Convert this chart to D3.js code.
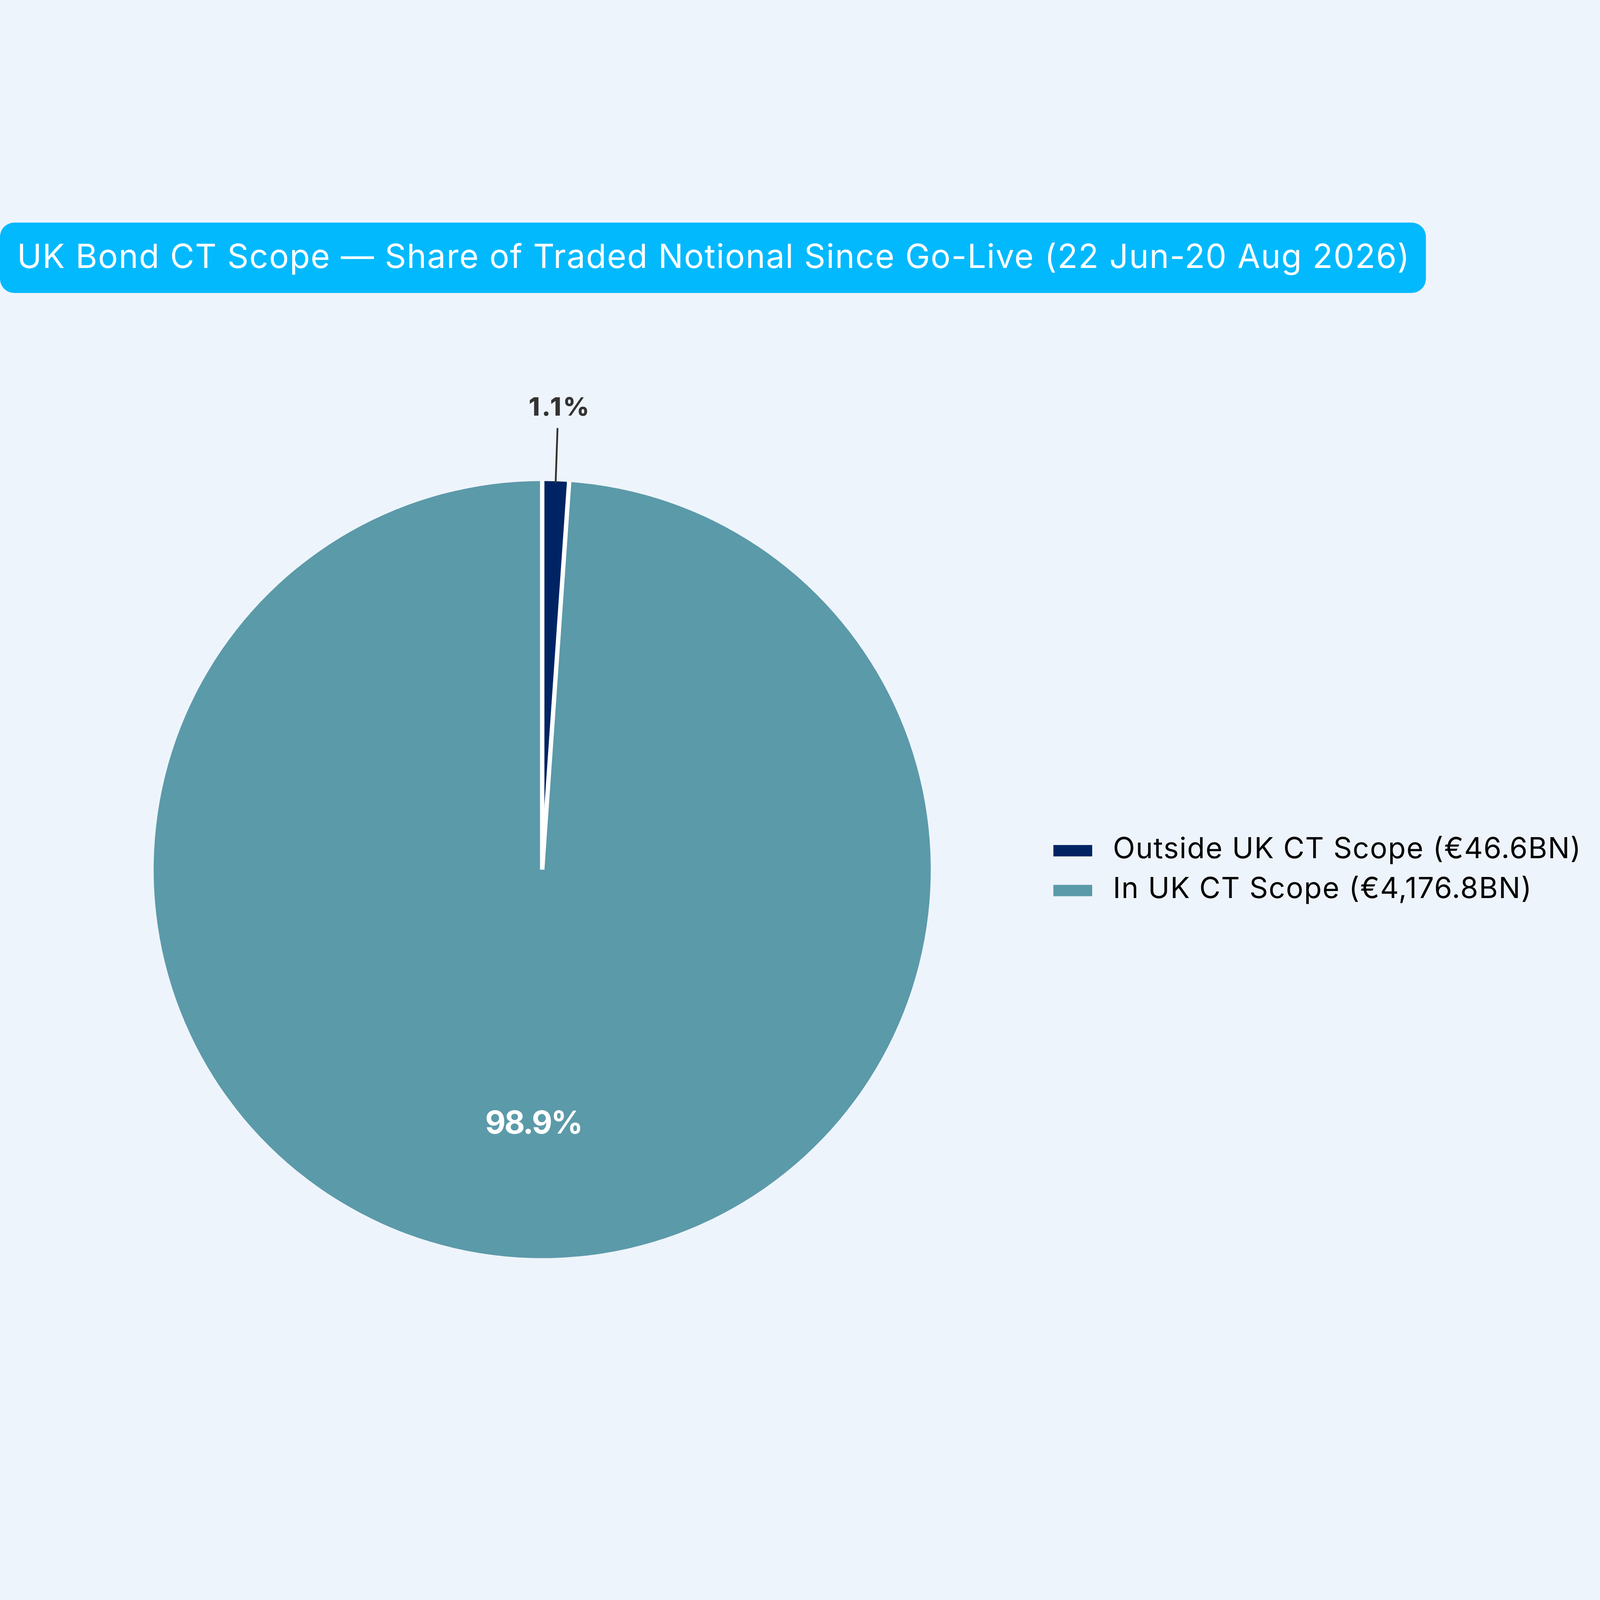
<!DOCTYPE html>
<html>
<head>
<meta charset="utf-8">
<script src="https://cdn.jsdelivr.net/npm/d3@7"></script>
<style>
  html, body { margin: 0; padding: 0; background: #eef4fb; width: 100%; height: 100%; overflow: hidden; }
  svg { display: block; width: 100vw; height: 100vh; }
</style>
</head>
<body>
<script>
const titleText = "UK Bond CT Scope — Share of Traded Notional Since Go-Live (22 Jun-20 Aug 2026)";
const categories = ["Outside UK CT Scope", "In UK CT Scope"];
const values = [46.6, 4176.8];
const legendLabels = ["Outside UK CT Scope (€46.6BN)", "In UK CT Scope (€4,176.8BN)"];
const colors = ["#002463", "#5b9aa9"];

const W = 6185, H = 4440;
const cx = 2096, cy = 2489, R = 1502;
const FONT = "Inter, 'Noto Sans', 'DejaVu Sans', sans-serif";

const svg = d3.select("body").append("svg")
  .attr("viewBox", `0 0 ${W} ${H}`)
  .attr("preserveAspectRatio", "xMidYMid meet");

svg.append("rect").attr("width", W).attr("height", H).attr("fill", "#eef4fb");

// Title box
svg.append("rect")
  .attr("x", 0).attr("y", -12).attr("width", 5512).attr("height", 272)
  .attr("rx", 55).attr("ry", 55)
  .attr("fill", "#03b9fe");
svg.append("text")
  .attr("x", 66).attr("y", 163)
  .attr("font-family", FONT).attr("font-size", 128)
  .attr("letter-spacing", 3)
  .attr("fill", "#ffffff")
  .text(titleText);

const total = d3.sum(values);
const data = categories.map((c, i) => ({ name: c, value: values[i], color: colors[i], legend: legendLabels[i] }));

const pie = d3.pie().value(d => d.value).sort(null).startAngle(0).endAngle(2 * Math.PI);
const arcs = pie(data);
const arc = d3.arc().innerRadius(0).outerRadius(R);

const g = svg.append("g").attr("transform", `translate(${cx},${cy})`);

g.selectAll("path.slice").data(arcs).enter().append("path")
  .attr("class", "slice")
  .attr("d", arc)
  .attr("fill", d => d.data.color);

// white radial separators at slice boundaries
g.selectAll("line.sep").data(arcs).enter().append("line")
  .attr("class", "sep")
  .attr("x1", 0).attr("y1", 0)
  .attr("x2", d => (R + 2) * Math.sin(d.startAngle))
  .attr("y2", d => -(R + 2) * Math.cos(d.startAngle))
  .attr("stroke", "#ffffff").attr("stroke-width", 17);

const fmt = v => (v / total * 100).toFixed(1) + "%";

arcs.forEach((a, i) => {
  const mid = (a.startAngle + a.endAngle) / 2;
  const frac = a.value / total;
  if (frac < 0.05) {
    const r0 = R - 4, r1 = 1705, rl = 1792;
    g.append("line")
      .attr("x1", r0 * Math.sin(mid)).attr("y1", -r0 * Math.cos(mid))
      .attr("x2", r1 * Math.sin(mid)).attr("y2", -r1 * Math.cos(mid))
      .attr("stroke", "#333333").attr("stroke-width", 7).attr("stroke-linecap", "round");
    g.append("text")
      .attr("x", rl * Math.sin(mid) + 6).attr("y", -rl * Math.cos(mid))
      .attr("text-anchor", "middle").attr("dominant-baseline", "central")
      .attr("font-family", FONT).attr("font-weight", 800).attr("font-size", 98)
      .attr("letter-spacing", 7)
      .attr("fill", "#333333")
      .text(fmt(a.value));
  } else {
    const rl = 0.65 * R;
    g.append("text")
      .attr("x", rl * Math.sin(mid)).attr("y", -rl * Math.cos(mid))
      .attr("text-anchor", "middle").attr("dominant-baseline", "central")
      .attr("font-family", FONT).attr("font-weight", 700).attr("font-size", 122)
      .attr("letter-spacing", -5)
      .attr("fill", "#ffffff")
      .text(fmt(a.value));
  }
});

// Legend
const lg = svg.append("g").attr("transform", "translate(4072, 2416)");
const items = lg.selectAll("g.item").data(data).enter().append("g")
  .attr("class", "item")
  .attr("transform", (d, i) => `translate(0, ${i * 154})`);
items.append("rect")
  .attr("x", 0).attr("y", -22).attr("width", 150).attr("height", 44)
  .attr("fill", d => d.color);
items.append("text")
  .attr("x", 230).attr("y", 29)
  .attr("font-family", FONT).attr("font-size", 112)
  .attr("letter-spacing", 2.7)
  .attr("fill", "#000000")
  .text(d => d.legend);
</script>
</body>
</html>
